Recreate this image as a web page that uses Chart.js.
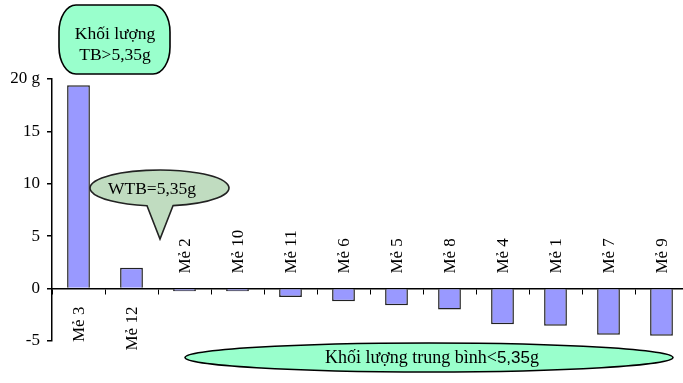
<!DOCTYPE html>
<html>
<head>
<meta charset="utf-8">
<script src="https://cdn.jsdelivr.net/npm/chart.js@4.4.1/dist/chart.umd.min.js"></script>
<style>
  html, body { margin: 0; padding: 0; background: #fff; overflow: hidden; }
  canvas { display: block; }
</style>
</head>
<body>
<canvas id="chart" width="700" height="383"></canvas>
<script>
// chênh lệch khối lượng so với WTB (g)
const labels = ["Mẻ 3", "Mẻ 12", "Mẻ 2", "Mẻ 10", "Mẻ 11", "Mẻ 6", "Mẻ 5", "Mẻ 8", "Mẻ 4", "Mẻ 1", "Mẻ 7", "Mẻ 9"];
const values = [19.4, 2.0, -0.25, -0.25, -0.8, -1.2, -1.6, -2.0, -3.4, -3.55, -4.4, -4.5];
const yTicks = [-5, 0, 5, 10, 15, 20];

const serif = '"Liberation Serif", "Times New Roman", serif';

// hình có góc bo elip
function softBox(ctx, x0, y0, w, h, rx, ry) {
  const x1 = x0 + w, y1 = y0 + h;
  ctx.beginPath();
  ctx.moveTo(x0 + rx, y0);
  ctx.lineTo(x1 - rx, y0);
  ctx.ellipse(x1 - rx, y0 + ry, rx, ry, 0, -Math.PI / 2, 0);
  ctx.lineTo(x1, y1 - ry);
  ctx.ellipse(x1 - rx, y1 - ry, rx, ry, 0, 0, Math.PI / 2);
  ctx.lineTo(x0 + rx, y1);
  ctx.ellipse(x0 + rx, y1 - ry, rx, ry, 0, Math.PI / 2, Math.PI);
  ctx.lineTo(x0, y0 + ry);
  ctx.ellipse(x0 + rx, y0 + ry, rx, ry, 0, Math.PI, Math.PI * 1.5);
  ctx.closePath();
}

// nhãn trục x + các chú thích
const decor = {
  id: 'decor',
  afterDraw(chart) {
    const ctx = chart.ctx;
    const x = chart.scales.x, y = chart.scales.y;
    const zero = y.getPixelForValue(0);

    ctx.save();
    ctx.fillStyle = '#000';
    ctx.font = '17px ' + serif;
    ctx.textBaseline = 'middle';
    labels.forEach((lb, i) => {
      const px = x.getPixelForValue(i);
      ctx.save();
      if (values[i] > 0) {
        ctx.translate(px, zero + 18);
        ctx.rotate(-Math.PI / 2);
        ctx.textAlign = 'right';
      } else {
        ctx.translate(px, zero - 15);
        ctx.rotate(-Math.PI / 2);
        ctx.textAlign = 'left';
      }
      ctx.fillText(lb, 0, 1);
      ctx.restore();
    });
    ctx.restore();

    ctx.save();
    ctx.lineWidth = 1.6;
    ctx.strokeStyle = '#000';

    // hộp trên
    softBox(ctx, 59, 5, 111, 69, 17, 27);
    ctx.fillStyle = '#99FFCC';
    ctx.fill();
    ctx.stroke();
    ctx.fillStyle = '#000';
    ctx.font = '17.5px ' + serif;
    ctx.textAlign = 'center';
    ctx.textBaseline = 'middle';
    ctx.fillText('Khối lượng', 115, 34);
    ctx.fillText('TB>5,35g', 115, 55);

    // callout WTB
    const cx = 159.5, cy = 188, rx = 69.5, ry = 18;
    const a1 = Math.acos((173 - cx) / rx), a2 = Math.acos((147 - cx) / rx);
    ctx.beginPath();
    ctx.ellipse(cx, cy, rx, ry, 0, a1, a2, true);
    ctx.lineTo(160, 239);
    ctx.closePath();
    ctx.fillStyle = '#C0DCC0';
    ctx.fill();
    ctx.strokeStyle = '#222';
    ctx.stroke();
    ctx.fillStyle = '#000';
    ctx.fillText('WTB=5,35g', 152, 189);

    // ellipse dưới
    ctx.beginPath();
    ctx.ellipse(429, 357.5, 244, 14.5, 0, 0, Math.PI * 2);
    ctx.fillStyle = '#99FFCC';
    ctx.fill();
    ctx.strokeStyle = '#000';
    ctx.stroke();
    const parts = [
      ['Khối lượng trung bình<', '18px ' + serif],
      ['5,35', '17px "Liberation Sans", Arial, sans-serif'],
      ['g', '18px ' + serif]
    ];
    let total = 0;
    parts.forEach(p => { ctx.font = p[1]; total += ctx.measureText(p[0]).width; });
    let tx = 432 - total / 2;
    ctx.textAlign = 'left';
    ctx.fillStyle = '#000';
    parts.forEach(p => {
      ctx.font = p[1];
      ctx.fillText(p[0], tx, 358);
      tx += ctx.measureText(p[0]).width;
    });
    ctx.restore();
  }
};

new Chart(document.getElementById('chart').getContext('2d'), {
  type: 'bar',
  data: {
    labels: labels,
    datasets: [{
      data: values,
      backgroundColor: '#9999FF',
      borderColor: '#222222',
      borderWidth: 1.5,
      categoryPercentage: 1,
      barPercentage: 0.43
    }]
  },
  options: {
    responsive: false,
    animation: false,
    devicePixelRatio: 1,
    layout: { padding: { top: 79, bottom: 42, left: 0, right: 12 } },
    plugins: {
      legend: { display: false },
      tooltip: { enabled: false }
    },
    scales: {
      x: {
        position: { y: 0 },
        grid: { drawOnChartArea: false, drawTicks: true, tickLength: 5, color: '#000' },
        border: { color: '#000', width: 1.5 },
        ticks: { display: false }
      },
      y: {
        min: -5,
        max: 20,
        afterBuildTicks(scale) { scale.ticks = yTicks.map(v => ({ value: v })); },
        afterFit(scale) { scale.width = 52; },
        grid: { drawOnChartArea: false, drawTicks: true, tickLength: 5, color: '#000', lineWidth: 1.5 },
        border: { color: '#000', width: 1.5 },
        ticks: {
          padding: 7,
          color: '#000',
          font: { family: serif, size: 17 },
          callback: v => v === 20 ? '20 g' : v
        }
      }
    }
  },
  plugins: [decor]
});
</script>
</body>
</html>
